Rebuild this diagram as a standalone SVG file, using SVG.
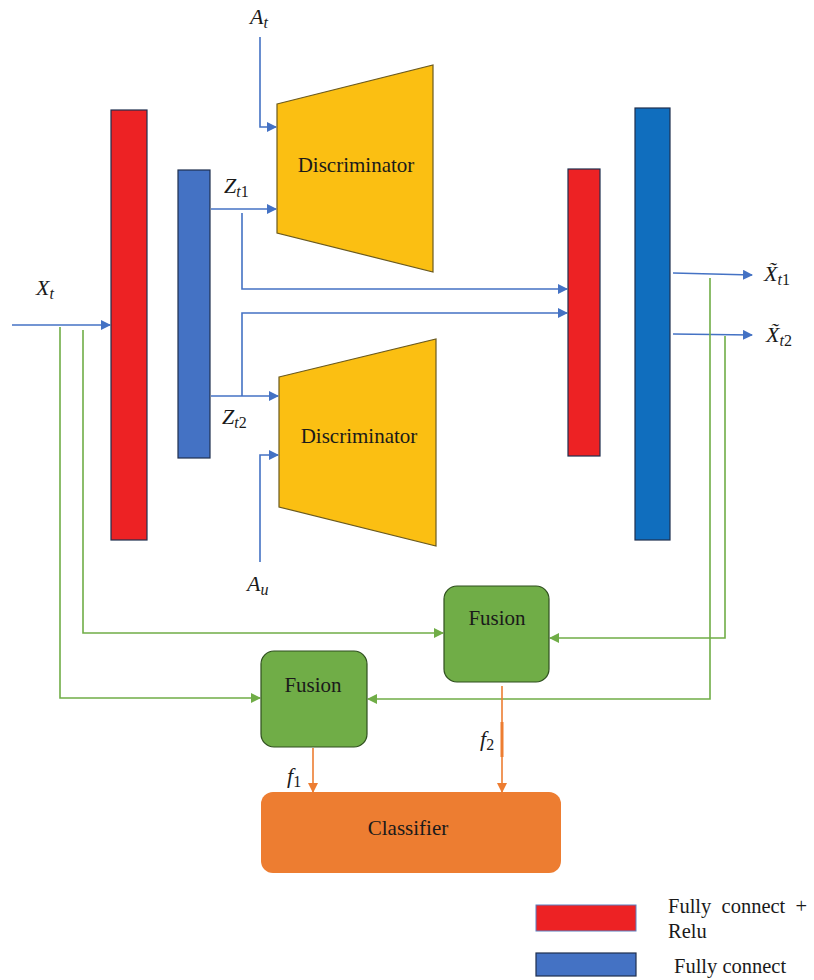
<svg xmlns="http://www.w3.org/2000/svg" width="814" height="980" viewBox="0 0 814 980">
<style>
.m{font-style:italic;font-size:22px;fill:#1a1a1a}
.s{font-size:16px}
.t{font-size:21px;fill:#1a1a1a;text-anchor:middle}
.lg{font-size:20.5px;fill:#1a1a1a}
.b{stroke:#4472C4;stroke-width:1.6;fill:none}
.g{stroke:#70AD47;stroke-width:1.6;fill:none}
.o{stroke:#ED7D31;stroke-width:1.6;fill:none}
</style>
<defs>
<marker id="ab" markerWidth="10" markerHeight="10" refX="9" refY="5" orient="auto" markerUnits="userSpaceOnUse"><path d="M0,0 L10,5 L0,10 Z" fill="#4472C4"/></marker>
<marker id="ag" markerWidth="10" markerHeight="10" refX="9" refY="5" orient="auto" markerUnits="userSpaceOnUse"><path d="M0,0 L10,5 L0,10 Z" fill="#70AD47"/></marker>
<marker id="ao" markerWidth="10" markerHeight="10" refX="9" refY="5" orient="auto" markerUnits="userSpaceOnUse"><path d="M0,0 L10,5 L0,10 Z" fill="#ED7D31"/></marker>
</defs>
<rect width="814" height="980" fill="#fff"/>

<g id="connectors">
<path class="b" d="M12,325 H110" marker-end="url(#ab)"/>
<path class="b" d="M260,37 V127 H276" marker-end="url(#ab)"/>
<path class="b" d="M211,209 H276" marker-end="url(#ab)"/>
<path class="b" d="M242,213 V289 H567" marker-end="url(#ab)"/>
<path class="b" d="M242,396 V313 H567" marker-end="url(#ab)"/>
<path class="b" d="M211,396 H278" marker-end="url(#ab)"/>
<path class="b" d="M260,562 V455 H278" marker-end="url(#ab)"/>
<path class="b" d="M673,273 L752,275" marker-end="url(#ab)"/>
<path class="b" d="M673,334 L752,335" marker-end="url(#ab)"/>
<path class="g" d="M60,327 V698 H260" marker-end="url(#ag)"/>
<path class="g" d="M83,330 V633 H443" marker-end="url(#ag)"/>
<path class="g" d="M710,278 V699 H368" marker-end="url(#ag)"/>
<path class="g" d="M725,336 V638 H550" marker-end="url(#ag)"/>
<path class="o" d="M313,748 V792" marker-end="url(#ao)"/>
<path class="o" d="M502,686 V792" marker-end="url(#ao)"/>
<path d="M502,722 V757" stroke="#ED7D31" stroke-width="3"/>
</g>

<g id="fc-relu-1"><rect x="111" y="110" width="36" height="430" fill="#ED2224" stroke="#1F2F4F" stroke-width="1.2"/></g>
<g id="fc-1"><rect x="178" y="170" width="32" height="288" fill="#4472C4" stroke="#1F2F4F" stroke-width="1.2"/></g>
<g id="fc-relu-2"><rect x="568" y="169" width="32" height="287" fill="#ED2224" stroke="#1F2F4F" stroke-width="1.2"/></g>
<g id="fc-2"><rect x="635" y="108" width="35" height="432" fill="#106EBE" stroke="#1F2F4F" stroke-width="1.2"/></g>

<g font-family="Liberation Serif, serif">
<g id="disc-1"><polygon points="277,104 433,65 433,272 277,233" fill="#FBBF12" stroke="#6B5A1E" stroke-width="1.2"/><text class="t" x="356" y="172">Discriminator</text></g>
<g id="disc-2"><polygon points="279,377 436,339 436,546 279,507" fill="#FBBF12" stroke="#6B5A1E" stroke-width="1.2"/><text class="t" x="359" y="443">Discriminator</text></g>

<g id="fusion-2"><rect x="444" y="586" width="105" height="96" rx="13" fill="#70AD47" stroke="#2F4F1F" stroke-width="1.2"/><text class="t" x="497" y="625">Fusion</text></g>
<g id="fusion-1"><rect x="261" y="651" width="106" height="96" rx="13" fill="#70AD47" stroke="#2F4F1F" stroke-width="1.2"/><text class="t" x="313" y="692">Fusion</text></g>
<g id="classifier"><rect x="261" y="792" width="300" height="81" rx="12" fill="#ED7D31"/><text class="t" x="408" y="835">Classifier</text></g>

<g id="labels">
<text class="m" x="250" y="24">A<tspan class="s" dy="4">t</tspan></text>
<text class="m" x="36" y="295">X<tspan class="s" dy="4">t</tspan></text>
<text class="m" x="224" y="193">Z<tspan class="s" dy="4">t</tspan><tspan class="s" font-style="normal">1</tspan></text>
<text class="m" x="222" y="424">Z<tspan class="s" dy="4">t</tspan><tspan class="s" font-style="normal">2</tspan></text>
<text class="m" x="247" y="591">A<tspan class="s" dy="4">u</tspan></text>
<text class="m" x="764" y="281">X̃<tspan class="s" dy="4">t</tspan><tspan class="s" font-style="normal">1</tspan></text>
<text class="m" x="766" y="342">X̃<tspan class="s" dy="4">t</tspan><tspan class="s" font-style="normal">2</tspan></text>
<text class="m" x="287" y="783">f<tspan class="s" dy="4" font-style="normal">1</tspan></text>
<text class="m" x="480" y="746">f<tspan class="s" dy="4" font-style="normal">2</tspan></text>
</g>

<g id="legend">
<rect x="536" y="905" width="100" height="26" fill="#ED2224" stroke="#5B7FBF" stroke-width="1"/>
<rect x="536" y="953" width="100" height="23" fill="#4472C4" stroke="#1F2F4F" stroke-width="1.2"/>
<text class="lg" x="668" y="913" xml:space="preserve">Fully  connect  +</text>
<text class="lg" x="668" y="938">Relu</text>
<text class="lg" x="674" y="973">Fully connect</text>
</g>
</g>
</svg>
